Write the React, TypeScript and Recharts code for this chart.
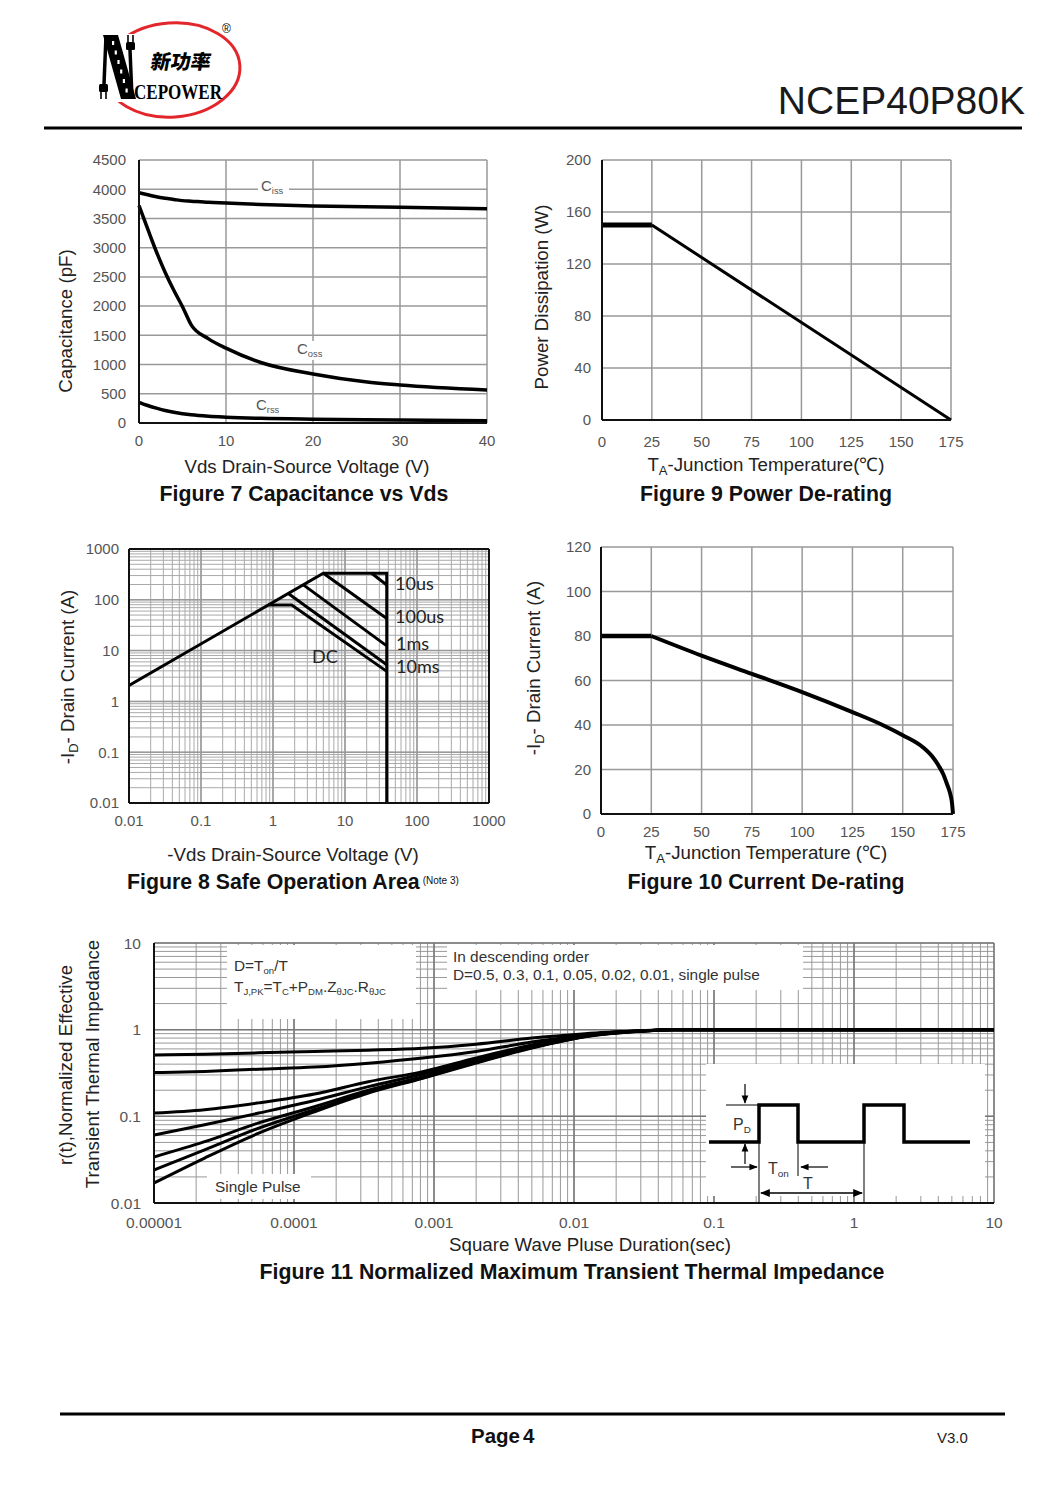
import React from "react";
import { LineChart, Line, XAxis, YAxis, CartesianGrid, ReferenceLine } from "recharts";

const FONT = '"Liberation Sans", Arial, sans-serif';

// ---- Figure 7: capacitance vs Vds
const VDS = [0, 1, 2, 3, 4, 5, 6, 8, 10, 14, 20, 26, 30, 40];
const CISS = [3940, 3905, 3870, 3845, 3825, 3805, 3795, 3775, 3765, 3740, 3715, 3700, 3690, 3665];
const COSS = [3720, 3320, 2930, 2580, 2270, 1990, 1680, 1440, 1280, 1035, 838, 705, 650, 565];
const CRSS = [355, 300, 255, 215, 185, 160, 140, 115, 100, 80, 65, 55, 50, 40];
const CAP_X_TICKS = [0, 10, 20, 30, 40];
const CAP_Y_TICKS = [0, 500, 1000, 1500, 2000, 2500, 3000, 3500, 4000, 4500];

// ---- Figure 9: power de-rating
const PD_TEMP = [0, 25, 175];
const PD_WATT = [150, 150, 0];
const PD_Y_TICKS = [0, 40, 80, 120, 160, 200];
const TEMP_TICKS = [0, 25, 50, 75, 100, 125, 150, 175];

// ---- Figure 10: current de-rating
const ID_FLAT_TEMP = [0, 25];
const ID_FLAT_AMP = [80, 80];
const ID_TEMP = [25, 50, 75, 100, 125, 140, 150, 160, 165, 168, 170, 172, 173.5, 174.5, 175];
const ID_AMP = [80, 71.2, 63, 54.8, 45.8, 40, 35.4, 30, 25.5, 21.5, 18.2, 13.5, 9.5, 5, 0];
const ID_Y_TICKS = [0, 20, 40, 60, 80, 100, 120];

// ---- Figure 8: safe operating area (log-log)
const SOA_DECADES = [0.01, 0.1, 1, 10, 100, 1000];
const SOA_LABELS = ["0.01", "0.1", "1", "10", "100", "1000"];
const SOA_LIMIT_V = [0.01, 5, 38, 38];
const SOA_LIMIT_I = [2.06, 333, 333, 0.01];
const SOA_10US_V = [23.4, 38];
const SOA_10US_I = [333, 196];
const SOA_100US_V = [5, 38];
const SOA_100US_I = [333, 43];
const SOA_1MS_V = [2.64, 38];
const SOA_1MS_I = [197, 12.4];
const SOA_10MS_V = [1.63, 38];
const SOA_10MS_I = [133, 5.25];
const SOA_DC_V = [0.86, 1.82, 38];
const SOA_DC_I = [79, 79, 3.9];

// ---- Figure 11: transient thermal impedance
const ZTH_T = [1e-5, 2.3e-5, 5.6e-5, 1.4e-4, 3.4e-4, 8.3e-4, 2e-3, 5e-3, 1.2e-2, 3e-2, 5e-2, 10];
const ZTH_D05 = [0.51, 0.52, 0.54, 0.56, 0.58, 0.61, 0.68, 0.8, 0.9, 0.97, 1, 1];
const ZTH_D03 = [0.32, 0.33, 0.35, 0.37, 0.41, 0.47, 0.56, 0.72, 0.87, 0.96, 1, 1];
const ZTH_D01 = [0.109, 0.119, 0.143, 0.181, 0.251, 0.328, 0.472, 0.667, 0.869, 0.97, 1, 1];
const ZTH_D005 = [0.061, 0.08, 0.109, 0.152, 0.22, 0.308, 0.447, 0.637, 0.853, 0.97, 1, 1];
const ZTH_D002 = [0.034, 0.051, 0.084, 0.129, 0.2, 0.287, 0.428, 0.625, 0.84, 0.965, 1, 1];
const ZTH_D001 = [0.024, 0.041, 0.073, 0.119, 0.191, 0.279, 0.42, 0.62, 0.835, 0.965, 1, 1];
const ZTH_SINGLE = [0.017, 0.033, 0.064, 0.113, 0.186, 0.275, 0.413, 0.615, 0.83, 0.96, 1, 1];
const ZTH_X_DECADES = [1e-5, 1e-4, 1e-3, 1e-2, 0.1, 1, 10];
const ZTH_X_LABELS = ["0.00001", "0.0001", "0.001", "0.01", "0.1", "1", "10"];
const ZTH_Y_DECADES = [0.01, 0.1, 1, 10];
const ZTH_Y_LABELS = ["0.01", "0.1", "1", "10"];

const zip = (xs: number[], ys: number[]) => xs.map((x, i) => ({ x, y: ys[i] }));
const logTicks = (decades: number[]) => {
  const out: number[] = [];
  decades.forEach((d, i) => {
    if (i === decades.length - 1) out.push(d);
    else for (let k = 1; k < 10; k++) out.push(Number((d * k).toPrecision(3)));
  });
  return out;
};
const decadeLabel = (decades: number[], labels: string[]) => (v: number) => {
  const i = decades.findIndex((d) => Math.abs(d - v) / d < 1e-6);
  return i >= 0 ? labels[i] : "";
};

const capRows = VDS.map((v, i) => ({ x: v, ciss: CISS[i], coss: COSS[i], crss: CRSS[i] }));
const zthRows = ZTH_T.map((t, i) => ({
  x: t, d05: ZTH_D05[i], d03: ZTH_D03[i], d01: ZTH_D01[i], d005: ZTH_D005[i],
  d002: ZTH_D002[i], d001: ZTH_D001[i], single: ZTH_SINGLE[i],
}));

const ML = 70, MT = 10, MR = 20, MB = 40;
const TICK = { fill: "#555", fontSize: 15, fontFamily: FONT };
const AXIS_LINE = { stroke: "#111", strokeWidth: 2 };
const AX = 18.7; // axis title size
const TT = 21.3; // figure title size

function Frame({ x0, y0, x1, y1, data, children }: any) {
  return (
    <div style={{ position: "absolute", left: x0 - ML, top: y0 - MT }}>
      <LineChart width={x1 - x0 + ML + MR} height={y1 - y0 + MT + MB} data={data}
        margin={{ top: MT, right: MR, bottom: 0, left: 0 }}>
        {children}
      </LineChart>
    </div>
  );
}

function Txt({ x, y, size = 15, color = "#444", weight = 400, anchor = "start", bg, family = FONT, children }: any) {
  const tx = anchor === "middle" ? "-50%" : anchor === "end" ? "-100%" : "0";
  return (
    <div style={{
      position: "absolute", left: x, top: y, transform: `translate(${tx},-50%)`, fontSize: size,
      color, fontWeight: weight, fontFamily: family, whiteSpace: "nowrap", lineHeight: 1, background: bg,
    }}>{children}</div>
  );
}

function VTxt({ x, y, size = AX, children }: any) {
  return (
    <div style={{
      position: "absolute", left: x, top: y, transform: "translate(-50%,-50%) rotate(-90deg)",
      fontSize: size, color: "#222", fontFamily: FONT, whiteSpace: "nowrap", lineHeight: 1,
    }}>{children}</div>
  );
}

const Sub = ({ children, s = "0.62em" }: any) => (
  <span style={{ fontSize: s, verticalAlign: "-0.3em" }}>{children}</span>
);

function Fig7() {
  const line = { type: "monotone" as const, stroke: "#000", strokeWidth: 3.5, dot: false, isAnimationActive: false };
  return (
    <Frame x0={139} y0={160} x1={487} y1={423} data={capRows}>
      <CartesianGrid stroke="#999" strokeWidth={1.5} />
      <XAxis type="number" dataKey="x" domain={[0, 40]} ticks={CAP_X_TICKS} interval={0} height={MB}
        tickLine={false} tickSize={0} tickMargin={12} axisLine={AXIS_LINE} tick={TICK} />
      <YAxis type="number" domain={[0, 4500]} ticks={CAP_Y_TICKS} interval={0} width={ML}
        tickLine={false} tickSize={0} tickMargin={13} axisLine={AXIS_LINE} tick={TICK} />
      <Line {...line} dataKey="ciss" />
      <Line {...line} dataKey="coss" />
      <Line {...line} dataKey="crss" />
    </Frame>
  );
}

function Fig9() {
  const rows = zip(PD_TEMP, PD_WATT);
  return (
    <Frame x0={602} y0={160} x1={951} y1={420}>
      <CartesianGrid stroke="#999" strokeWidth={1.5} />
      <XAxis type="number" dataKey="x" domain={[0, 175]} ticks={TEMP_TICKS} interval={0} height={MB}
        tickLine={false} tickSize={0} tickMargin={16} axisLine={AXIS_LINE} tick={TICK} />
      <YAxis type="number" domain={[0, 200]} ticks={PD_Y_TICKS} interval={0} width={ML}
        tickLine={false} tickSize={0} tickMargin={11} axisLine={AXIS_LINE} tick={TICK} />
      <Line data={rows.slice(0, 2)} dataKey="y" type="linear" stroke="#000" strokeWidth={5} dot={false} isAnimationActive={false} />
      <Line data={rows.slice(1)} dataKey="y" type="linear" stroke="#000" strokeWidth={3} dot={false} isAnimationActive={false} />
    </Frame>
  );
}

function Fig10() {
  return (
    <Frame x0={601} y0={547} x1={953} y1={814}>
      <CartesianGrid stroke="#999" strokeWidth={1.5} />
      <XAxis type="number" dataKey="x" domain={[0, 175]} ticks={TEMP_TICKS} interval={0} height={MB}
        tickLine={false} tickSize={0} tickMargin={12} axisLine={AXIS_LINE} tick={TICK} />
      <YAxis type="number" domain={[0, 120]} ticks={ID_Y_TICKS} interval={0} width={ML}
        tickLine={false} tickSize={0} tickMargin={10} axisLine={AXIS_LINE} tick={TICK} />
      <Line data={zip(ID_FLAT_TEMP, ID_FLAT_AMP)} dataKey="y" type="linear" stroke="#000" strokeWidth={4.5} dot={false} isAnimationActive={false} />
      <Line data={zip(ID_TEMP, ID_AMP)} dataKey="y" type="monotone" stroke="#000" strokeWidth={4} dot={false} isAnimationActive={false} />
    </Frame>
  );
}

function Fig8() {
  const ticks = logTicks(SOA_DECADES);
  const fmt = decadeLabel(SOA_DECADES, SOA_LABELS);
  const series = [
    zip(SOA_LIMIT_V, SOA_LIMIT_I), zip(SOA_10US_V, SOA_10US_I), zip(SOA_100US_V, SOA_100US_I),
    zip(SOA_1MS_V, SOA_1MS_I), zip(SOA_10MS_V, SOA_10MS_I), zip(SOA_DC_V, SOA_DC_I),
  ];
  return (
    <Frame x0={129} y0={549} x1={489} y1={803}>
      <CartesianGrid stroke="#aaa" strokeWidth={1} />
      <XAxis type="number" scale="log" dataKey="x" domain={[0.01, 1000]} allowDataOverflow ticks={ticks} interval={0}
        tickFormatter={fmt} height={MB} tickLine={false} tickSize={0} tickMargin={12} axisLine={AXIS_LINE} tick={TICK} />
      <YAxis type="number" scale="log" domain={[0.01, 1000]} allowDataOverflow ticks={ticks} interval={0}
        tickFormatter={fmt} width={ML} tickLine={false} tickSize={0} tickMargin={10} axisLine={AXIS_LINE} tick={TICK} />
      {SOA_DECADES.map((d) => (
        <ReferenceLine key={"vx" + d} x={d} stroke="#999" strokeWidth={1.5} />
      ))}
      {SOA_DECADES.map((d) => (
        <ReferenceLine key={"hy" + d} y={d} stroke="#999" strokeWidth={1.5} />
      ))}
      <ReferenceLine x={1000} stroke="#111" strokeWidth={2} />
      <ReferenceLine y={1000} stroke="#111" strokeWidth={2} />
      {series.map((s, i) => (
        <Line key={i} data={s} dataKey="y" type="linear" stroke="#000" strokeWidth={3} dot={false} isAnimationActive={false} />
      ))}
    </Frame>
  );
}

function Fig11() {
  const xt = logTicks(ZTH_X_DECADES);
  const yt = logTicks(ZTH_Y_DECADES);
  const keys = ["d05", "d03", "d01", "d005", "d002", "d001", "single"];
  return (
    <Frame x0={154} y0={943} x1={994} y1={1203} data={zthRows}>
      <CartesianGrid stroke="#999" strokeWidth={1} />
      <XAxis type="number" scale="log" dataKey="x" domain={[1e-5, 10]} allowDataOverflow ticks={xt} interval={0}
        tickFormatter={decadeLabel(ZTH_X_DECADES, ZTH_X_LABELS)} height={MB} tickLine={false} tickSize={0}
        tickMargin={14} axisLine={AXIS_LINE} tick={{ ...TICK, fontSize: 15.5 }} />
      <YAxis type="number" scale="log" domain={[0.01, 10]} allowDataOverflow ticks={yt} interval={0}
        tickFormatter={decadeLabel(ZTH_Y_DECADES, ZTH_Y_LABELS)} width={ML} tickLine={false} tickSize={0}
        tickMargin={13} axisLine={AXIS_LINE} tick={{ ...TICK, fontSize: 15.5 }} />
      {ZTH_X_DECADES.map((d) => (
        <ReferenceLine key={"vx" + d} x={d} stroke="#777" strokeWidth={1.5} />
      ))}
      {ZTH_Y_DECADES.map((d) => (
        <ReferenceLine key={"hy" + d} y={d} stroke="#777" strokeWidth={1.5} />
      ))}
      {keys.map((k) => (
        <Line key={k} dataKey={k} type="monotone" stroke="#000" strokeWidth={3} dot={false} isAnimationActive={false} />
      ))}
    </Frame>
  );
}

function Overlay() {
  return (
    <svg width={1060} height={1499} style={{ position: "absolute", left: 0, top: 0, pointerEvents: "none" }}>
      <defs>
        <marker id="ah" viewBox="0 0 10 10" refX="9" refY="5" markerWidth="7" markerHeight="7" orient="auto-start-reverse">
          <path d="M0,1 L10,5 L0,9 z" fill="#000" />
        </marker>
      </defs>
      {/* logo */}
      <ellipse cx={172} cy={70} rx={68} ry={47} fill="none" stroke="#e3262b" strokeWidth={3} transform="rotate(-4 172 70)" />
      <rect x={97} y={34} width={38} height={68} fill="#fff" />
      <polygon points="103,35 118,35 136,99 121,99" fill="#000" />
      {[0, 1, 2, 3, 4, 5].map((i) => (
        <rect key={i} x={112 + i * 2.7} y={41 + i * 9.5} width={2.2} height={4} fill="#fff" />
      ))}
      <line x1={106} y1={36} x2={104} y2={84} stroke="#000" strokeWidth={3.5} />
      <rect x={99} y={84} width={9} height={8} rx={1.5} fill="#000" />
      <line x1={101} y1={92} x2={101} y2={99} stroke="#000" strokeWidth={1.6} />
      <line x1={106} y1={92} x2={106} y2={99} stroke="#000" strokeWidth={1.6} />
      <line x1={130} y1={50} x2={132} y2={98} stroke="#000" strokeWidth={3.5} />
      <rect x={126} y={42} width={9} height={8} rx={1.5} fill="#000" />
      <line x1={128} y1={35} x2={128} y2={42} stroke="#000" strokeWidth={1.6} />
      <line x1={133} y1={35} x2={133} y2={42} stroke="#000" strokeWidth={1.6} />
      <text x={150} y={69} fontSize={20} fontWeight={900} fontFamily='"Noto Sans CJK SC"' transform="skewX(-10) translate(12,0)">新功率</text>
      <text x={134} y={99} fontSize={21} fontWeight={700} fontFamily='"Liberation Serif", serif' textLength={88} lengthAdjust="spacingAndGlyphs">CEPOWER</text>
      <text x={222} y={33} fontSize={12} fontFamily={FONT}>®</text>

      {/* header / footer rules */}
      <rect x={44} y={126.5} width={978} height={3} fill="#000" />
      <rect x={60} y={1412.5} width={945} height={3} fill="#000" />

      {/* fig 7 label knock-outs */}
      <rect x={258} y={179} width={31} height={15} fill="#fff" />
      <rect x={295} y={341} width={29} height={19} fill="#fff" />

      {/* fig 11 text boxes */}
      <rect x={227} y={945} width={189} height={74} fill="#fff" />
      <rect x={447} y={945} width={356} height={45} fill="#fff" />
      <rect x={207} y={1174} width={104} height={25} fill="#fff" />
      <rect x={706} y={1064} width={279} height={132} fill="#fff" />

      {/* duty-cycle inset */}
      <polyline points="709,1142 759,1142 759,1105 798,1105 798,1142 864,1142 864,1105 904,1105 904,1142 970,1142"
        fill="none" stroke="#000" strokeWidth={3.5} />
      <line x1={726} y1={1105} x2={758} y2={1105} stroke="#000" strokeWidth={1} />
      <line x1={745} y1={1084} x2={745} y2={1103} stroke="#000" strokeWidth={1.2} markerEnd="url(#ah)" />
      <line x1={745} y1={1164} x2={745} y2={1144} stroke="#000" strokeWidth={1.2} markerEnd="url(#ah)" />
      <line x1={731} y1={1167} x2={757} y2={1167} stroke="#000" strokeWidth={1.2} markerEnd="url(#ah)" />
      <line x1={828} y1={1167} x2={801} y2={1167} stroke="#000" strokeWidth={1.2} markerEnd="url(#ah)" />
      <line x1={759} y1={1142} x2={759} y2={1204} stroke="#000" strokeWidth={1} />
      <line x1={798} y1={1142} x2={798} y2={1176} stroke="#000" strokeWidth={1} />
      <line x1={864} y1={1142} x2={864} y2={1203} stroke="#000" strokeWidth={1} />
      <line x1={761} y1={1193} x2={862} y2={1193} stroke="#000" strokeWidth={1.4} markerStart="url(#ah)" markerEnd="url(#ah)" />
    </svg>
  );
}

export default function App() {
  const lab = "#333";
  const soa = { size: 18, color: "#222", family: '"Lato", sans-serif' };
  return (
    <div style={{ position: "absolute", left: 0, top: 0, width: 1060, height: 1499, background: "#fff", overflow: "hidden", fontFamily: FONT }}>
      <Fig7 />
      <Fig9 />
      <Fig8 />
      <Fig10 />
      <Fig11 />
      <Overlay />

      <Txt x={1025} y={100} size={39} color="#1a1a1a" anchor="end">NCEP40P80K</Txt>

      {/* Figure 7 */}
      <Txt x={261} y={187} color="#555">C<Sub>iss</Sub></Txt>
      <Txt x={297} y={350} color="#555">C<Sub>oss</Sub></Txt>
      <Txt x={256} y={406} color="#555">C<Sub>rss</Sub></Txt>
      <VTxt x={66} y={321}>Capacitance (pF)</VTxt>
      <Txt x={307} y={467} size={AX} color="#222" anchor="middle">Vds Drain-Source Voltage (V)</Txt>
      <Txt x={304} y={495} size={TT} weight={700} color="#111" anchor="middle">Figure 7 Capacitance vs Vds</Txt>

      {/* Figure 9 */}
      <VTxt x={542} y={297}>Power Dissipation (W)</VTxt>
      <Txt x={766} y={467} size={AX} color="#222" anchor="middle">T<Sub s="0.7em">A</Sub>-Junction Temperature(℃)</Txt>
      <Txt x={766} y={495} size={TT} weight={700} color="#111" anchor="middle">Figure 9 Power De-rating</Txt>

      {/* Figure 8 */}
      <Txt x={395} y={583} {...soa}>10us</Txt>
      <Txt x={395} y={616} {...soa}>100us</Txt>
      <Txt x={396} y={643} {...soa}>1ms</Txt>
      <Txt x={396} y={666} {...soa}>10ms</Txt>
      <Txt x={312} y={656} {...soa}>DC</Txt>
      <VTxt x={70} y={677}>-I<Sub s="0.7em">D</Sub>- Drain Current (A)</VTxt>
      <Txt x={293} y={855} size={AX} color="#222" anchor="middle">-Vds Drain-Source Voltage (V)</Txt>
      <Txt x={127} y={883} size={TT} weight={700} color="#111">
        Figure 8 Safe Operation Area<span style={{ fontSize: 10, fontWeight: 400, verticalAlign: "0.5em", marginLeft: 3 }}>(Note 3)</span>
      </Txt>

      {/* Figure 10 */}
      <VTxt x={536} y={668}>-I<Sub s="0.7em">D</Sub>- Drain Current (A)</VTxt>
      <Txt x={766} y={855} size={AX} color="#222" anchor="middle">T<Sub s="0.7em">A</Sub>-Junction Temperature (℃)</Txt>
      <Txt x={766} y={883} size={TT} weight={700} color="#111" anchor="middle">Figure 10 Current De-rating</Txt>

      {/* Figure 11 */}
      <Txt x={234} y={967} size={15.4} color={lab}>D=T<Sub>on</Sub>/T</Txt>
      <Txt x={234} y={988} size={15.4} color={lab}>
        T<Sub>J,PK</Sub>=T<Sub>C</Sub>+P<Sub>DM</Sub>.Z<Sub>θJC</Sub>.R<Sub>θJC</Sub>
      </Txt>
      <Txt x={453} y={957} size={15.4} color={lab}>In descending order</Txt>
      <Txt x={453} y={975} size={15.4} color={lab}>D=0.5, 0.3, 0.1, 0.05, 0.02, 0.01, single pulse</Txt>
      <Txt x={215} y={1187} size={15.4} color={lab}>Single Pulse</Txt>
      <Txt x={733} y={1126} size={16} color={lab}>P<Sub>D</Sub></Txt>
      <Txt x={768} y={1170} size={16} color={lab}>T<Sub>on</Sub></Txt>
      <Txt x={803} y={1184} size={16} color={lab}>T</Txt>
      <VTxt x={66} y={1065}>r(t),Normalized Effective</VTxt>
      <VTxt x={93} y={1064}>Transient Thermal Impedance</VTxt>
      <Txt x={590} y={1245} size={AX} color="#222" anchor="middle">Square Wave Pluse Duration(sec)</Txt>
      <Txt x={572} y={1273} size={TT} weight={700} color="#111" anchor="middle">Figure 11 Normalized Maximum Transient Thermal Impedance</Txt>

      {/* footer */}
      <Txt x={471} y={1436} size={20.5} weight={700} color="#111">Page<span style={{ marginLeft: 3 }}>4</span></Txt>
      <Txt x={937} y={1437} size={15} color="#222">V3.0</Txt>
    </div>
  );
}
